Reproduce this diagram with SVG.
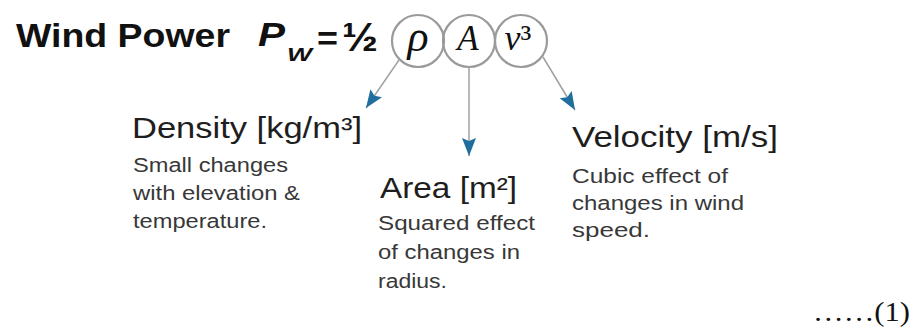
<svg xmlns="http://www.w3.org/2000/svg" width="912" height="328" viewBox="0 0 912 328">
<style>
.title{font-family:"Liberation Sans",Arial,sans-serif;font-weight:bold;fill:#111}
.head{font-family:"Liberation Sans",Arial,sans-serif;font-size:29px;fill:#1e1e1e}
.desc{font-family:"Liberation Sans",Arial,sans-serif;font-size:20px;fill:#383838}
.math{font-family:"Liberation Serif","Times New Roman",serif;font-style:italic;fill:#111}
.circ{fill:none;stroke:#9a9a9a;stroke-width:2.2}
.conn{fill:none;stroke:#a0a0a0;stroke-width:1.5}
.eq{font-family:"Liberation Serif","Times New Roman",serif;font-size:27px;fill:#111}
</style>
<defs>
<marker id="ah" markerUnits="userSpaceOnUse" markerWidth="20" markerHeight="16" refX="18" refY="7" orient="auto">
<path d="M0,0 L18,7 L0,14 L3,7 z" fill="#1f6e9e"/>
</marker>
</defs>
<rect width="912" height="328" fill="#fff"/>
<g id="title">
<text class="title" x="16" y="47" font-size="34" textLength="214" lengthAdjust="spacingAndGlyphs">Wind Power</text>
<text class="title" x="258" y="46" font-size="33" font-style="italic" textLength="27" lengthAdjust="spacingAndGlyphs">P</text>
<text class="title" x="287" y="61" font-size="19" font-style="italic" textLength="25" lengthAdjust="spacingAndGlyphs">W</text>
<text class="title" x="317" y="50" font-size="33" textLength="21" lengthAdjust="spacingAndGlyphs">=</text>
<text class="title" x="342" y="51" font-size="40" font-weight="normal" textLength="36" lengthAdjust="spacingAndGlyphs">½</text>
</g>
<g id="rho">
<circle class="circ" cx="418" cy="41" r="26"/>
<text class="math" x="418" y="51" font-size="44" text-anchor="middle">ρ</text>
</g>
<g id="area">
<circle class="circ" cx="469" cy="41" r="26"/>
<text class="math" x="468" y="50" font-size="35" text-anchor="middle">A</text>
</g>
<g id="vel">
<circle class="circ" cx="521" cy="41" r="26"/>
<text class="math" x="518" y="50" font-size="36" text-anchor="middle">v<tspan font-style="normal">³</tspan></text>
</g>
<g id="connectors">
<line class="conn" x1="399" y1="60" x2="366" y2="108" marker-end="url(#ah)"/>
<line class="conn" x1="469" y1="67" x2="469" y2="156" marker-end="url(#ah)"/>
<line class="conn" x1="543" y1="57" x2="575" y2="110" marker-end="url(#ah)"/>
</g>
<g id="density">
<text class="head" x="132" y="138" textLength="230" lengthAdjust="spacingAndGlyphs">Density [kg/m³]</text>
<text class="desc" x="133" y="172" textLength="155" lengthAdjust="spacingAndGlyphs">Small changes</text>
<text class="desc" x="133" y="200" textLength="167" lengthAdjust="spacingAndGlyphs">with elevation &amp;</text>
<text class="desc" x="133" y="228" textLength="134" lengthAdjust="spacingAndGlyphs">temperature.</text>
</g>
<g id="areaText">
<text class="head" x="380" y="198" textLength="137" lengthAdjust="spacingAndGlyphs">Area [m²]</text>
<text class="desc" x="378" y="230" textLength="157" lengthAdjust="spacingAndGlyphs">Squared effect</text>
<text class="desc" x="378" y="259" textLength="142" lengthAdjust="spacingAndGlyphs">of changes in</text>
<text class="desc" x="378" y="288" textLength="69" lengthAdjust="spacingAndGlyphs">radius.</text>
</g>
<g id="velocity">
<text class="head" x="572" y="147" textLength="206" lengthAdjust="spacingAndGlyphs">Velocity [m/s]</text>
<text class="desc" x="572" y="183" textLength="156" lengthAdjust="spacingAndGlyphs">Cubic effect of</text>
<text class="desc" x="572" y="210" textLength="172" lengthAdjust="spacingAndGlyphs">changes in wind</text>
<text class="desc" x="572" y="237" textLength="78" lengthAdjust="spacingAndGlyphs">speed.</text>
</g>
<text class="eq" x="813" y="321" textLength="97" lengthAdjust="spacingAndGlyphs">……(1)</text>
</svg>
